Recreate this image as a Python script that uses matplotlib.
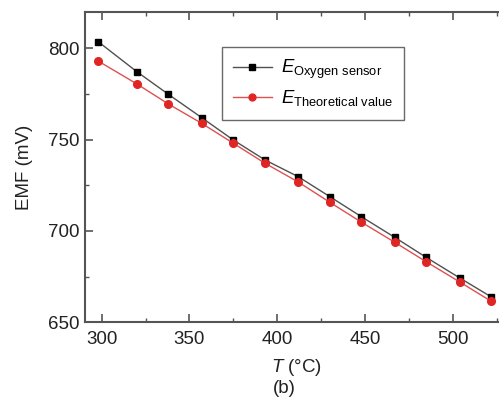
import matplotlib

matplotlib.use("Agg")
import matplotlib.pyplot as plt
from matplotlib.ticker import MultipleLocator

plt.rcParams["font.family"] = ["Liberation Sans", "DejaVu Sans"]
plt.rcParams["mathtext.fontset"] = "custom"
plt.rcParams["mathtext.rm"] = "Liberation Sans"
plt.rcParams["mathtext.it"] = "Liberation Sans:italic"

# Temperature (deg C) and EMF (mV)
temperature = [298, 320, 338, 357, 375, 393, 412, 430, 448, 467, 485, 504, 522]
emf_sensor = [803.6, 787.2, 774.8, 762.0, 749.8, 738.9, 729.7, 718.8, 707.8, 696.5, 685.5, 674.3, 663.9]
emf_theory = [793.0, 780.5, 769.5, 758.9, 748.0, 737.1, 726.8, 715.7, 704.8, 693.8, 683.1, 672.1, 661.5]

labels = [r"$\mathit{E}_{\mathrm{Oxygen\ sensor}}$", r"$\mathit{E}_{\mathrm{Theoretical\ value}}$"]

spine_color = "#555555"
text_color = "#222222"

fig = plt.figure(figsize=(4.99, 3.99), dpi=100)
# right edge deliberately past the figure border, as in the cropped original
ax = fig.add_axes([0.1703, 0.1922, 0.8497, 0.7785])

ax.plot(temperature, emf_sensor, color="#505050", lw=1.0, marker="s", ms=4.8,
        mfc="black", mec="black", label=labels[0])
ax.plot(temperature, emf_theory, color="#e05050", lw=1.0, marker="o", ms=5.5,
        mfc="#e02525", mec="#e02525", label=labels[1])

ax.set_xlim(290.5, 532.1)
ax.set_ylim(650, 820)
ax.xaxis.set_major_locator(MultipleLocator(50))
ax.xaxis.set_minor_locator(MultipleLocator(25))
ax.yaxis.set_major_locator(MultipleLocator(50))
ax.yaxis.set_minor_locator(MultipleLocator(25))

for s in ax.spines.values():
    s.set_color(spine_color)
    s.set_linewidth(1.5)
ax.tick_params(which="both", direction="in", top=True, right=False,
               color=spine_color, labelsize=13.5, labelcolor=text_color)
ax.tick_params(which="major", length=6, width=1.2, pad=4)
ax.tick_params(axis="x", which="major", pad=6)
ax.tick_params(which="minor", length=3, width=1.0)

ax.set_ylabel("EMF (mV)", fontsize=13.5, color=text_color, labelpad=11)
ax.set_xlabel(r"$\mathit{T}$ (°C)", fontsize=13.5, color=text_color, labelpad=7)
fig.text(0.569, 0.027, "(b)", fontsize=13.5, color=text_color, ha="center", va="center")

leg = ax.legend(loc="upper left", bbox_to_anchor=(0.323, 0.887), borderaxespad=0,
                fontsize=13.3, handlelength=2.1, frameon=True, fancybox=False,
                edgecolor="#444444", borderpad=0.6, labelspacing=0.4, handletextpad=0.5,
                markerscale=0.9)
leg.get_frame().set_linewidth(1.0)

fig.savefig("out.png", dpi=100)
